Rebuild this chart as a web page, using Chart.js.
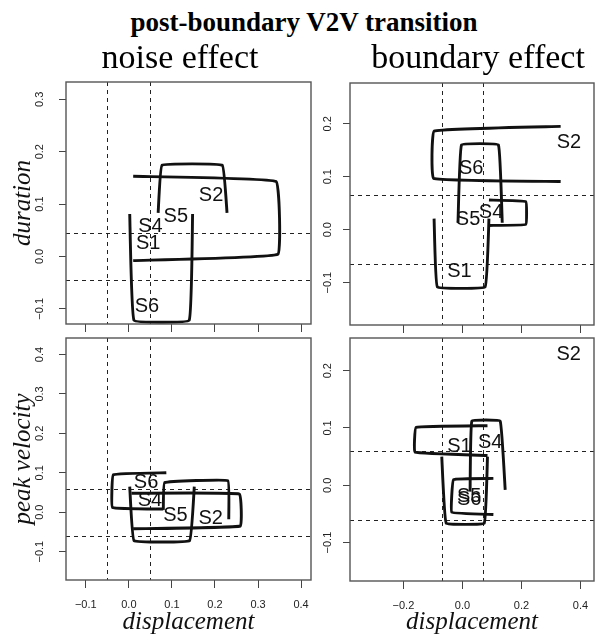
<!DOCTYPE html>
<html>
<head>
<meta charset="utf-8">
<script src="https://cdn.jsdelivr.net/npm/chart.js@4.4.1/dist/chart.umd.min.js"></script>
<style>
  body { margin: 0; background: #fff; width: 597px; height: 642px; position: relative; overflow: hidden; }
  canvas { position: absolute; }
  .t { position: absolute; z-index: 2; font-family: "Liberation Serif", serif; line-height: 1; white-space: nowrap; color: #000; transform: translateX(-50%); }
</style>
</head>
<body>
<div class="t" style="left:304px; top:9px; font-size:27px; font-weight:bold;">post-boundary V2V transition</div>
<div class="t" style="left:180px; top:40px; font-size:34px;">noise effect</div>
<div class="t" style="left:478px; top:40px; font-size:34px;">boundary effect</div>
<canvas id="tl" width="314" height="265" style="left:0; top:70px;"></canvas>
<canvas id="tr" width="283" height="265" style="left:314px; top:70px;"></canvas>
<canvas id="bl" width="314" height="307" style="left:0; top:335px;"></canvas>
<canvas id="br" width="283" height="307" style="left:314px; top:335px;"></canvas>
<script>
// noise effect, duration
const ndPathX = [[0.010, 0.342, 0.346, 0.010], [0.068, 0.077, 0.217, 0.228], [0.002, 0.012, 0.140, 0.148]];
const ndPathY = [[0.153, 0.143, 0.004, -0.008], [0.083, 0.174, 0.174, 0.083], [0.081, -0.122, -0.122, 0.081]];
const ndLabels = ['S2', 'S5', 'S4', 'S1', 'S6'];
const ndLabelX = [0.191, 0.109, 0.050, 0.045, 0.042];
const ndLabelY = [0.117, 0.076, 0.057, 0.024, -0.095];

// boundary effect, duration
const bdPathX = [[0.333, -0.096, -0.098, 0.333], [-0.015, -0.003, 0.122, 0.135], [0.090, 0.215, 0.215, 0.090], [-0.096, -0.085, 0.077, 0.090]];
const bdPathY = [[0.195, 0.186, 0.097, 0.091], [0.013, 0.160, 0.160, 0.013], [0.056, 0.053, 0.010, 0.008], [0.021, -0.108, -0.108, 0.021]];
const bdLabels = ['S2', 'S6', 'S4', 'S5', 'S1'];
const bdLabelX = [0.361, 0.030, 0.097, 0.019, -0.010];
const bdLabelY = [0.165, 0.115, 0.033, 0.020, -0.078];

// noise effect, peak velocity
const npPathX = [[0.087, -0.036, -0.038, 0.080], [0.006, 0.257, 0.259, 0.010], [0.080, 0.083, 0.230, 0.232], [0.002, 0.012, 0.141, 0.152]];
const npPathY = [[0.100, 0.095, 0.012, 0.008], [0.048, 0.046, -0.035, -0.042], [0.006, 0.075, 0.080, -0.018], [0.065, -0.072, -0.072, 0.065]];
const npLabels = ['S6', 'S4', 'S5', 'S2'];
const npLabelX = [0.040, 0.049, 0.108, 0.190];
const npLabelY = [0.075, 0.031, -0.009, -0.017];

// boundary effect, peak velocity
const bpPathX = [[0.085, -0.157, -0.161, 0.085], [0.026, 0.032, 0.128, 0.145], [-0.070, -0.055, 0.074, 0.085], [0.105, -0.030, -0.036, 0.105]];
const bpPathY = [[0.104, 0.101, 0.058, 0.052], [-0.011, 0.112, 0.112, -0.008], [0.050, -0.066, -0.066, 0.050], [0.012, 0.010, -0.047, -0.051]];
const bpLabels = ['S2', 'S1', 'S4', 'S5', 'S6'];
const bpLabelX = [0.360, -0.010, 0.094, 0.023, 0.023];
const bpLabelY = [0.228, 0.068, 0.074, -0.019, -0.024];

// dashed reference lines
const noiseRefX = [-0.05, 0.05];
const noiseDurRefY = [-0.045, 0.045];
const noisePvRefY = [-0.061, 0.059];
const boundRefX = [-0.070, 0.069];
const boundDurRefY = [-0.064, 0.066];
const boundPvRefY = [-0.061, 0.060];

const sans = '"Liberation Sans", Arial, sans-serif';
const serif = '"Liberation Serif", serif';

function fmt(v) {
  if (Math.abs(v) < 1e-9) v = 0;
  return v.toFixed(1).replace('-', '\u2212');
}

const frame = {
  id: 'frame',
  beforeDatasetsDraw(chart, args, o) {
    const {ctx, chartArea: a, scales} = chart;
    ctx.save();
    ctx.strokeStyle = '#222';
    ctx.lineWidth = 1;
    ctx.setLineDash([4, 4]);
    o.vx.forEach(v => {
      const px = Math.round(scales.x.getPixelForValue(v)) + 0.5;
      ctx.beginPath(); ctx.moveTo(px, a.top); ctx.lineTo(px, a.bottom); ctx.stroke();
    });
    o.hy.forEach(v => {
      const py = Math.round(scales.y.getPixelForValue(v)) + 0.5;
      ctx.beginPath(); ctx.moveTo(a.left, py); ctx.lineTo(a.right, py); ctx.stroke();
    });
    ctx.restore();
  },
  afterDatasetsDraw(chart, args, o) {
    const {ctx, chartArea: a, scales} = chart;
    ctx.save();
    ctx.font = '20px ' + sans;
    ctx.fillStyle = '#111';
    ctx.textAlign = 'center';
    ctx.textBaseline = 'middle';
    o.labels.forEach((t, i) => {
      ctx.fillText(t, scales.x.getPixelForValue(o.lx[i]), scales.y.getPixelForValue(o.ly[i]));
    });
    ctx.strokeStyle = '#555';
    ctx.lineWidth = 1.4;
    ctx.strokeRect(a.left, a.top, a.right - a.left, a.bottom - a.top);
    ctx.restore();
  }
};

function panel(id, p) {
  const datasets = p.px.map((xs, i) => ({
    data: xs.map((x, j) => ({x: x, y: p.py[i][j]})),
    showLine: true,
    borderColor: '#111',
    borderWidth: 2.9,
    pointRadius: 0,
    tension: 0.07,
    fill: false
  }));
  new Chart(document.getElementById(id), {
    type: 'scatter',
    data: {datasets: datasets},
    plugins: [frame],
    options: {
      responsive: false,
      animation: false,
      layout: {padding: p.pad},
      plugins: {
        legend: {display: false},
        tooltip: {enabled: false},
        frame: {vx: p.vx, hy: p.hy, labels: p.labels, lx: p.lx, ly: p.ly}
      },
      scales: {
        x: {
          type: 'linear', min: p.xr[0], max: p.xr[1],
          afterFit: s => { s.height = p.xh; s.paddingLeft = 0; s.paddingRight = 0; },
          border: {display: false},
          grid: {drawOnChartArea: false, tickLength: 8, color: '#444'},
          ticks: {display: p.xTitle, stepSize: p.xs, includeBounds: false, autoSkip: false, maxRotation: 0,
                  padding: 10, color: '#222', font: {family: sans, size: 11}, callback: fmt},
          title: {display: p.xTitle, text: 'displacement', color: '#111',
                  font: {family: serif, style: 'italic', size: 25}, padding: {top: 0, bottom: 5}}
        },
        y: {
          type: 'linear', min: p.yr[0], max: p.yr[1],
          afterFit: s => { s.width = p.yw; s.paddingTop = 0; s.paddingBottom = 0; },
          border: {display: false},
          grid: {drawOnChartArea: false, tickLength: 7, color: '#444'},
          ticks: {stepSize: 0.1, includeBounds: false, autoSkip: false, minRotation: 90, maxRotation: 90,
                  crossAlign: 'center', padding: p.tp, color: '#222', font: {family: sans, size: 11}, callback: fmt},
          title: {display: !!p.yTitle, text: p.yTitle || '', color: '#111',
                  font: {family: serif, style: 'italic', size: 25}, padding: {top: 8, bottom: 0}}
        }
      }
    }
  });
}

panel('tl', {px: ndPathX, py: ndPathY, labels: ndLabels, lx: ndLabelX, ly: ndLabelY,
  vx: noiseRefX, hy: noiseDurRefY, xr: [-0.146, 0.423], yr: [-0.129, 0.333], xs: 0.1,
  yTitle: 'duration', xTitle: false, pad: {top: 12, right: 3, left: 0, bottom: 0}, yw: 66, xh: 11, tp: 8});
panel('tr', {px: bdPathX, py: bdPathY, labels: bdLabels, lx: bdLabelX, ly: bdLabelY,
  vx: boundRefX, hy: boundDurRefY, xr: [-0.381, 0.446], yr: [-0.180, 0.277], xs: 0.2,
  yTitle: null, xTitle: false, pad: {top: 13, right: 3, left: 0, bottom: 0}, yw: 36, xh: 10, tp: 4});
panel('bl', {px: npPathX, py: npPathY, labels: npLabels, lx: npLabelX, ly: npLabelY,
  vx: noiseRefX, hy: noisePvRefY, xr: [-0.146, 0.423], yr: [-0.172, 0.442], xs: 0.1,
  yTitle: 'peak velocity', xTitle: true, pad: {top: 3, right: 3, left: 0, bottom: 0}, yw: 66, xh: 62, tp: 8});
panel('br', {px: bpPathX, py: bpPathY, labels: bpLabels, lx: bpLabelX, ly: bpLabelY,
  vx: boundRefX, hy: boundPvRefY, xr: [-0.381, 0.446], yr: [-0.167, 0.257], xs: 0.2,
  yTitle: null, xTitle: true, pad: {top: 3, right: 3, left: 0, bottom: 0}, yw: 36, xh: 61, tp: 4});
</script>
</body>
</html>
